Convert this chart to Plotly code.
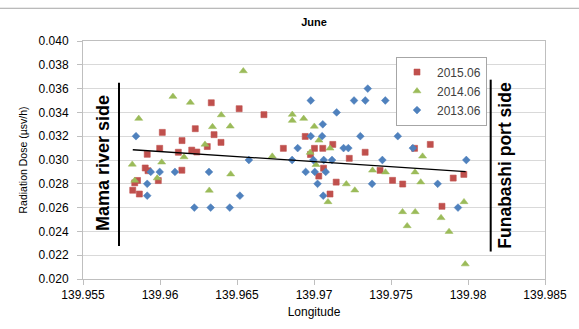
import plotly.graph_objects as go

# ---- data ----
red_x = [139.95823, 139.95866, 139.95836, 139.95854, 139.95904, 139.95922, 139.95917, 139.95989,
         139.95998, 139.96015, 139.96119, 139.96142, 139.96143, 139.96206, 139.96229, 139.96239,
         139.96307, 139.96333, 139.96351, 139.96396, 139.96514, 139.96675, 139.96801, 139.96943,
         139.96977, 139.97003, 139.97057, 139.97062, 139.97031, 139.97104, 139.97122, 139.97144,
         139.97229, 139.97332, 139.97429, 139.97510, 139.97576, 139.97653, 139.97755, 139.97831,
         139.97904, 139.97973]
red_y = [0.02746, 0.02714, 0.02808, 0.02828, 0.02933, 0.02910, 0.03048, 0.02827,
         0.03098, 0.03232, 0.03065, 0.02914, 0.03163, 0.03083, 0.03263, 0.03067,
         0.03113, 0.03481, 0.03213, 0.03148, 0.03431, 0.03381, 0.03098, 0.03198,
         0.03046, 0.03098, 0.03098, 0.02931, 0.02865, 0.02714, 0.03131, 0.02814,
         0.03014, 0.03065, 0.02913, 0.02829, 0.02798, 0.03098, 0.03131, 0.02611,
         0.02848, 0.02879]

green_x = [139.95820, 139.95836, 139.95862, 139.95982, 139.96011, 139.96084, 139.96156, 139.96197,
           139.96292, 139.96320, 139.96341, 139.96398, 139.96456, 139.96459, 139.96541, 139.96729,
           139.96859, 139.96859, 139.96933, 139.97002, 139.97032, 139.97104, 139.96975, 139.97013,
           139.97091, 139.97210, 139.97265, 139.97380, 139.97464, 139.97575, 139.97605, 139.97656,
           139.97657, 139.97693, 139.97705, 139.97825, 139.97877, 139.97974, 139.97982]
green_y = [0.02963, 0.02828, 0.03348, 0.02848, 0.02981, 0.03533, 0.03025, 0.03483,
           0.03131, 0.02744, 0.03279, 0.03378, 0.03283, 0.02881, 0.03748, 0.03031,
           0.03382, 0.03331, 0.03348, 0.03282, 0.03165, 0.03098, 0.03063, 0.02960,
           0.02648, 0.02798, 0.02746, 0.02913, 0.02898, 0.02564, 0.02446, 0.02898,
           0.02564, 0.02814, 0.03031, 0.02514, 0.02398, 0.02648, 0.02125]

blue_x = [139.95844, 139.95917, 139.95917, 139.95940, 139.95998, 139.96097, 139.96223, 139.96318,
          139.96329, 139.96453, 139.96519, 139.96577, 139.96858, 139.96894, 139.96946, 139.96979,
          139.96979, 139.96996, 139.97005, 139.97023, 139.97053, 139.97057, 139.97060, 139.97063,
          139.97076, 139.97117, 139.97147, 139.97192, 139.97223, 139.97260, 139.97301, 139.97333,
          139.97349, 139.97377, 139.97444, 139.97463, 139.97544, 139.97642, 139.97803, 139.97935,
          139.97989]
blue_y = [0.032, 0.028, 0.027, 0.029, 0.029, 0.029, 0.026, 0.029,
          0.026, 0.026, 0.027, 0.030, 0.030, 0.031, 0.029, 0.035,
          0.032, 0.030, 0.029, 0.028, 0.032, 0.033, 0.027, 0.030,
          0.029, 0.030, 0.034, 0.031, 0.031, 0.035, 0.032, 0.035,
          0.036, 0.028, 0.030, 0.035, 0.032, 0.031, 0.028, 0.026,
          0.030]

trend_x = [139.95823, 139.97985]
trend_y = [0.03086, 0.02903]

series_names = ["2015.06", "2014.06", "2013.06"]
x_ticks = [139.955, 139.96, 139.965, 139.97, 139.975, 139.98, 139.985]
x_tick_labels = ["139.955", "139.96", "139.965", "139.97", "139.975", "139.98", "139.985"]
y_ticks = [0.020, 0.022, 0.024, 0.026, 0.028, 0.030, 0.032, 0.034, 0.036, 0.038, 0.040]
y_tick_labels = ["%.3f" % v for v in y_ticks]

FONT = "Liberation Sans, Arial, sans-serif"

fig = go.Figure()
fig.add_trace(go.Scatter(x=red_x, y=red_y, mode="markers", name=series_names[0],
                         marker=dict(symbol="square", size=6, color="#C0504D",
                                     line=dict(width=0.6, color="#C0504D"))))
fig.add_trace(go.Scatter(x=green_x, y=green_y, mode="markers", name=series_names[1],
                         marker=dict(symbol="triangle-up", size=7, color="#9BBB59",
                                     line=dict(width=0.5, color="#9BBB59"))))
fig.add_trace(go.Scatter(x=blue_x, y=blue_y, mode="markers", name=series_names[2],
                         marker=dict(symbol="diamond", size=6, color="#4F81BD",
                                     line=dict(width=0.5, color="#4F81BD"))))
fig.add_trace(go.Scatter(x=trend_x, y=trend_y, mode="lines", showlegend=False,
                         line=dict(color="black", width=1.3), hoverinfo="skip"))

L, R, T, B = 83, 34, 41, 48
W, H = 579, 329
pw, ph = W - L - R, H - T - B

def px(xp):
    return (xp - L) / pw

def py(yp):
    return (H - B - yp) / ph

fig.update_layout(
    width=W, height=H,
    margin=dict(l=L, r=R, t=T, b=B),
    paper_bgcolor="white", plot_bgcolor="white",
    font=dict(family=FONT, size=12, color="#000000"),
    title=dict(text="<b>June</b>", x=0.5, xref="paper", y=1 - 22 / H, yref="container",
               xanchor="center", yanchor="middle", font=dict(size=11, family=FONT)),
    showlegend=True,
    legend=dict(x=px(396), y=py(56.7), xanchor="left", yanchor="top",
                bordercolor="#A6A6A6", borderwidth=1, bgcolor="white",
                font=dict(size=12, family=FONT, color="#404040"),
                itemwidth=30, tracegroupgap=0),
    xaxis=dict(range=[139.955, 139.985], tickvals=x_ticks, ticktext=x_tick_labels,
               showgrid=False, zeroline=False, showline=True, linecolor="#BFBFBF",
               linewidth=1, mirror=True, ticks="outside", ticklen=5, tickcolor="#BFBFBF",
               tickfont=dict(size=12, family=FONT, color="#000000"),
               title=dict(text="Longitude", font=dict(size=12, family=FONT), standoff=6)),
    yaxis=dict(range=[0.020, 0.040], tickvals=y_ticks, ticktext=y_tick_labels,
               showgrid=True, gridcolor="#D9D9D9", gridwidth=1, zeroline=False,
               showline=True, linecolor="#BFBFBF", linewidth=1, mirror=True,
               ticks="outside", ticklen=5, tickcolor="#BFBFBF", ticklabelstandoff=6,
               tickfont=dict(size=12, family=FONT, color="#000000"),
               title=dict(text="Radiation Dose (µsv/h)", font=dict(size=10.5, family=FONT),
                          standoff=8)),
)

# chart-area top border
fig.add_shape(type="line", xref="paper", yref="paper", x0=px(0), x1=px(W), y0=py(8), y1=py(8),
              line=dict(color="#A6A6A6", width=1))
# side markers
fig.add_shape(type="line", xref="paper", yref="paper", x0=px(119), x1=px(119),
              y0=py(247.7), y1=py(83), line=dict(color="black", width=2))
fig.add_shape(type="line", xref="paper", yref="paper", x0=px(490.7), x1=px(490.7),
              y0=py(253.3), y1=py(80), line=dict(color="black", width=2))
fig.add_annotation(text="<b>Mama river side</b>", xref="paper", yref="paper", x=px(103), y=py(164),
                   showarrow=False, textangle=-90, xanchor="center", yanchor="middle",
                   font=dict(size=18, family=FONT, color="black"))
fig.add_annotation(text="<b>Funabashi port side</b>", xref="paper", yref="paper", x=px(505),
                   y=py(166.7), showarrow=False, textangle=-90, xanchor="center",
                   yanchor="middle", font=dict(size=17.5, family=FONT, color="black"))

fig.write_html("out.html", config={"displayModeBar": False},
               post_script="document.body.style.margin='0';document.body.style.overflow='hidden';")
